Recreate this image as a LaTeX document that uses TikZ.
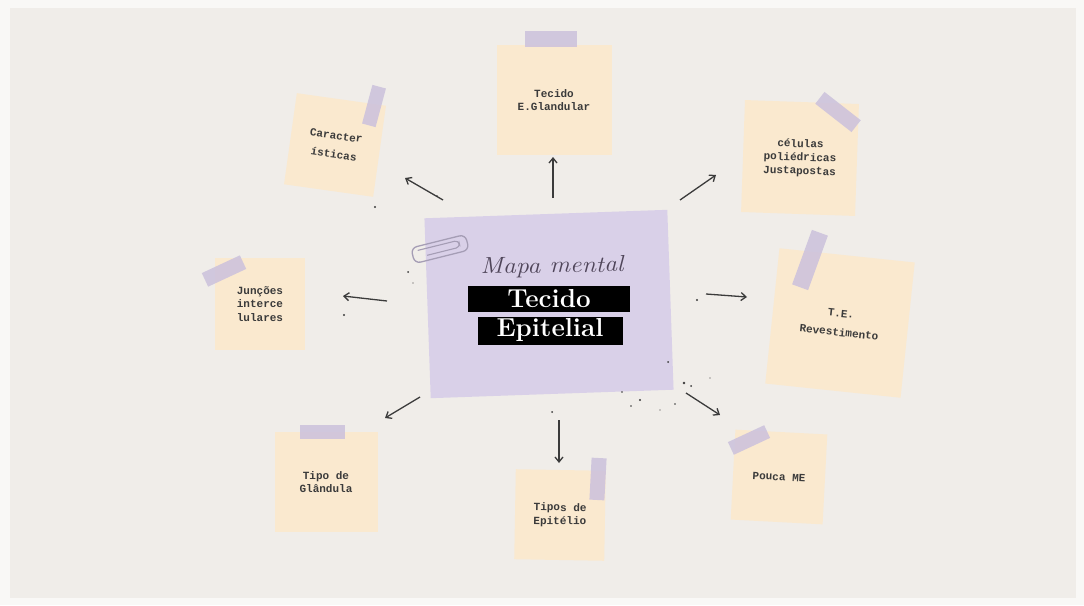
\documentclass[tikz,border=0pt]{standalone}
\usepackage{fontspec}
\setmonofont{Liberation Mono}
\usetikzlibrary{arrows.meta}
\definecolor{bgout}{HTML}{F9F8F6}
\definecolor{bgin}{HTML}{F0EDE9}
\definecolor{notecol}{HTML}{FAE9CF}
\definecolor{tapecol}{HTML}{CBC1DC}
\definecolor{cardcol}{HTML}{D9D0E8}
\definecolor{inkcol}{HTML}{3B3B3B}
\definecolor{scriptcol}{HTML}{4F4559}
\definecolor{clipcol}{HTML}{A59DB5}
\tikzset{
  note/.style={fill=notecol, inner sep=0pt, align=center, text=inkcol,
    font=\ttfamily\bfseries\fontsize{11}{13.5}\selectfont},
  widenote/.style={note, font=\ttfamily\bfseries\fontsize{11}{19}\selectfont},
  tape/.style={fill=tapecol, fill opacity=0.85, inner sep=0pt},
  arr/.style={draw=inkcol, line width=1.3pt, -{Straight Barb[length=5pt,width=8pt,line width=1.3pt]}},
  titlebar/.style={fill=black, inner sep=0pt},
  titletext/.style={text=white, inner sep=0pt, font=\bfseries\fontsize{26}{26}\selectfont},
  speck/.style={fill=inkcol, draw=none}
}
\begin{document}
\begin{tikzpicture}[x=1pt,y=-1pt]
\useasboundingbox (0,0) rectangle (1084,605);
\fill[bgout] (0,0) rectangle (1084,605);
\fill[bgin] (10,8) rectangle (1076,598);

% notes
\node[widenote, minimum width=90pt, minimum height=92pt, rotate=-8] (n1) at (335,145) {Caracter\\ ísticas};
\node[tape, minimum width=14pt, minimum height=40pt, rotate=-15] (t1) at (374,106) {};

\node[note, minimum width=115pt, minimum height=110pt] (n2) at (554,100) {Tecido\\E.Glandular};
\node[tape, minimum width=52pt, minimum height=16pt] (t2) at (551,39) {};

\node[note, minimum width=114pt, minimum height=112pt, rotate=-2] (n3) at (800,158) {células\\poliédricas\\Justapostas};
\node[tape, minimum width=46pt, minimum height=15pt, rotate=-38] (t3) at (838,112) {};

\node[note, minimum width=90pt, minimum height=92pt] (n4) at (260,304) {Junções\\interce\\lulares};
\node[tape, minimum width=42pt, minimum height=15pt, rotate=25] (t4) at (224,271) {};

\node[widenote, minimum width=136pt, minimum height=136pt, rotate=-6] (n5) at (840,323) {T.E.\\Revestimento};
\node[tape, minimum width=17pt, minimum height=58pt, rotate=-20] (t5) at (810,260) {};

\node[note, minimum width=103pt, minimum height=100pt] (n6) at (326,482) {Tipo de\\Glândula};
\node[tape, minimum width=45pt, minimum height=14pt] (t6) at (322,432) {};

\node[note, minimum width=90pt, minimum height=90pt, rotate=-1] (n7) at (560,515) {Tipos de\\Epitélio};
\node[tape, minimum width=15pt, minimum height=42pt, rotate=-3] (t7) at (598,479) {};

\node[note, minimum width=92pt, minimum height=90pt, rotate=-3] (n8) at (779,477) {Pouca ME};
\node[tape, minimum width=40pt, minimum height=14pt, rotate=25] (t8) at (749,440) {};

% central card
\node[fill=cardcol, minimum width=243pt, minimum height=180pt, rotate=2, inner sep=0pt] (c) at (549,304) {};
% paper clip
\begin{scope}[shift={(440,249)}, rotate=14]
  \draw[clipcol, line width=1.3pt, rounded corners=6pt] (-28,-8) rectangle (28,8);
  \draw[clipcol, line width=1.1pt, rounded corners=4pt] (-22,-4) -- (20,-4) -- (20,3) -- (-14,3);
\end{scope}
\node[text=scriptcol, font=\itshape\fontsize{23}{23}\selectfont, xscale=1.12, rotate=1] (mm) at (552,267) {Mapa mental};
\node[titlebar, minimum width=162pt, minimum height=26pt] (b1) at (549,299) {};
\node[titletext] (tx1) at (549,299) {Tecido};
\node[titlebar, minimum width=145pt, minimum height=28pt] (b2) at (550,331) {};
\node[titletext] (tx2) at (550,330) {Epitelial};

% arrows
\coordinate (a1s) at (443,200); \coordinate (a1e) at (405,178);
\coordinate (a2s) at (553,198); \coordinate (a2e) at (553,157);
\coordinate (a3s) at (680,200); \coordinate (a3e) at (716,175);
\coordinate (a4s) at (387,301); \coordinate (a4e) at (343,296);
\coordinate (a5s) at (706,294); \coordinate (a5e) at (747,297);
\coordinate (a6s) at (420,397); \coordinate (a6e) at (385,418);
\coordinate (a7s) at (559,420); \coordinate (a7e) at (559,463);
\coordinate (a8s) at (686,393); \coordinate (a8e) at (720,415);
\draw[arr] (a1s) -- (a1e);
\draw[arr] (a2s) -- (a2e);
\draw[arr] (a3s) -- (a3e);
\draw[arr] (a4s) -- (a4e);
\draw[arr] (a5s) -- (a5e);
\draw[arr] (a6s) -- (a6e);
\draw[arr] (a7s) -- (a7e);
\draw[arr] (a8s) -- (a8e);

% speckles
\foreach \p/\r in {{(375,207)}/1.2, {(408,272)}/1.0, {(344,315)}/1.1, {(437,196)}/0.8, {(668,362)}/1.0, {(684,383)}/1.3, {(691,386)}/1.0, {(640,400)}/1.1, {(631,406)}/0.9, {(622,392)}/0.8, {(697,300)}/1.1, {(675,404)}/0.8, {(552,412)}/1.0, {(710,378)}/0.7, {(660,410)}/0.7, {(413,283)}/0.7}
  \fill[speck] \p circle (\r pt);
\end{tikzpicture}
\end{document}
